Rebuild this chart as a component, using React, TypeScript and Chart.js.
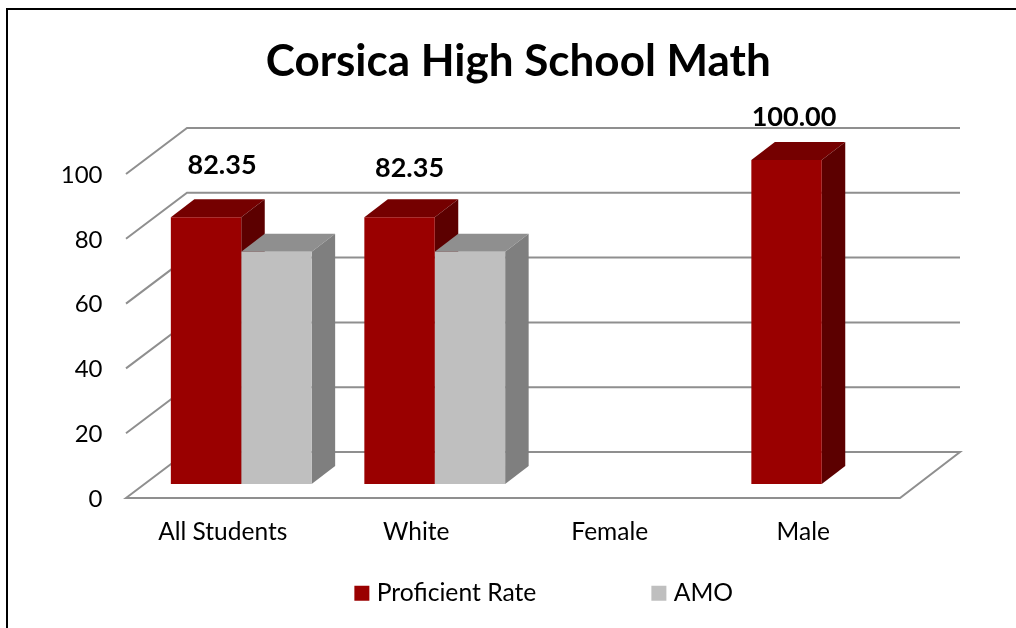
import React, { useEffect, useRef } from "react";
import { Chart, registerables } from "chart.js";

Chart.register(...registerables);

const categories = ["All Students", "White", "Female", "Male"];
const proficientRate = [82.35, 82.35, null, 100.0];
const amo = [71.7, 71.7, null, null];
const yTicks = [0, 20, 40, 60, 80, 100];

const FONT = "Lato";
const DEPTH_X = 23.5;
const DEPTH_Y = 18;
const faces = [
  { front: "#9A0000", top: "#750000", side: "#5C0000" },
  { front: "#BFBFBF", top: "#8F8F8F", side: "#7F7F7F" },
];
const labelNudge = [
  [16, -52],
  [10, -49],
  [0, 0],
  [7.5, -42.5],
];

const poly = (ctx: any, pts: number[][], fill: string) => {
  ctx.beginPath();
  pts.forEach((p, i) => (i ? ctx.lineTo(p[0], p[1]) : ctx.moveTo(p[0], p[1])));
  ctx.closePath();
  ctx.fillStyle = fill;
  ctx.fill();
};

const scene3d = {
  id: "scene3d",
  afterLayout(chart: any) {
    if (chart.titleBlock) {
      chart.titleBlock.left += 59;
      chart.titleBlock.right += 59;
    }
    if (chart.legend) {
      chart.legend.left += 87;
      chart.legend.right += 87;
      chart.legend.top = 581 - chart.options.plugins.legend.labels.padding;
    }
  },
  beforeDatasetsDraw(chart: any) {
    const { ctx, chartArea } = chart;
    const y = chart.scales.y;
    const fx = chartArea.left - 18.5;
    const bx = chartArea.left + 42.5;
    const rx = chartArea.right + 41.5;
    ctx.save();
    ctx.strokeStyle = "#8F8F8F";
    ctx.lineWidth = 2;
    ctx.lineJoin = "miter";
    yTicks.forEach((v) => {
      const py = y.getPixelForValue(v);
      ctx.beginPath();
      ctx.moveTo(fx, py + 14);
      ctx.lineTo(bx, py - 32);
      ctx.lineTo(rx, py - 32);
      if (v === 0) {
        ctx.lineTo(chartArea.right - 18.5, py + 14);
        ctx.closePath();
      }
      ctx.stroke();
    });
    categories.forEach((_, i) => {
      chart.data.datasets.forEach((ds: any, d: number) => {
        if (ds.data[i] == null) return;
        const bar = chart.getDatasetMeta(d).data[i];
        const p = bar.getProps(["x", "y", "base", "width"], true);
        const l = p.x - p.width / 2;
        const r = p.x + p.width / 2;
        poly(
          ctx,
          [
            [l, p.y],
            [l + DEPTH_X, p.y - DEPTH_Y],
            [r + DEPTH_X, p.y - DEPTH_Y],
            [r, p.y],
          ],
          faces[d].top
        );
        poly(
          ctx,
          [
            [r, p.y],
            [r + DEPTH_X, p.y - DEPTH_Y],
            [r + DEPTH_X, p.base - DEPTH_Y],
            [r, p.base],
          ],
          faces[d].side
        );
      });
    });
    ctx.restore();
  },
  afterDatasetsDraw(chart: any) {
    const { ctx } = chart;
    ctx.save();
    ctx.font = `bold 27px ${FONT}`;
    ctx.fillStyle = "#000";
    ctx.textAlign = "center";
    ctx.textBaseline = "middle";
    const meta = chart.getDatasetMeta(0);
    proficientRate.forEach((v, i) => {
      if (v == null) return;
      const bar = meta.data[i];
      ctx.fillText(v.toFixed(2), bar.x + labelNudge[i][0], bar.y + labelNudge[i][1]);
    });
    ctx.restore();
  },
  afterDraw(chart: any) {
    const { ctx } = chart;
    ctx.save();
    ctx.strokeStyle = "#000";
    ctx.lineWidth = 2;
    ctx.beginPath();
    ctx.moveTo(7, 640);
    ctx.lineTo(7, 9);
    ctx.lineTo(1030, 9);
    ctx.stroke();
    ctx.restore();
  },
};

export default function App() {
  const ref = useRef<HTMLCanvasElement>(null);
  useEffect(() => {
    const chart = new Chart(ref.current as any, {
      type: "bar",
      plugins: [scene3d],
      data: {
        labels: categories,
        datasets: [
          { label: "Proficient Rate", data: proficientRate, backgroundColor: faces[0].front, borderWidth: 0 },
          { label: "AMO", data: amo, backgroundColor: faces[1].front, borderWidth: 0 },
        ],
      },
      options: {
        animation: false,
        responsive: false,
        layout: { autoPadding: false, padding: { left: 0, right: 97.5, top: 0, bottom: 0 } },
        datasets: { bar: { categoryPercentage: 0.7277, barPercentage: 1 } },
        scales: {
          x: {
            grid: { display: false },
            border: { display: false },
            afterFit: (s: any) => {
              s.height = 114;
            },
            ticks: {
              color: "#000",
              font: { family: FONT, size: 24.5 },
              padding: 25,
              labelOffset: -18.5,
              maxRotation: 0,
              autoSkip: false,
            },
          },
          y: {
            min: 0,
            max: 100,
            grid: { display: false },
            border: { display: false },
            afterFit: (s: any) => {
              s.width = 144.5;
            },
            afterBuildTicks: (s: any) => {
              s.ticks = yTicks.map((value) => ({ value }));
            },
            ticks: {
              color: "#000",
              font: { family: FONT, size: 24 },
              padding: 34,
              labelOffset: 15,
            },
          },
        },
        plugins: {
          title: {
            display: true,
            text: "Corsica High School Math",
            color: "#000",
            font: { family: FONT, size: 44, weight: "bold", lineHeight: 1 },
            padding: { top: 40, bottom: 76 },
          },
          legend: {
            display: true,
            position: "bottom",
            maxHeight: 30,
            labels: {
              color: "#000",
              font: { family: FONT, size: 24.7 },
              usePointStyle: true,
              pointStyle: "rect",
              boxHeight: 15,
              boxWidth: 5,
              padding: 120,
            },
          },
          tooltip: { enabled: false },
        },
      },
    } as any);
    return () => chart.destroy();
  }, []);
  return (
    <div style={{ position: "fixed", left: 0, top: 0, width: 1016, height: 628, background: "#fff" }}>
      <canvas ref={ref} width={1016} height={628} style={{ display: "block" }} />
    </div>
  );
}
